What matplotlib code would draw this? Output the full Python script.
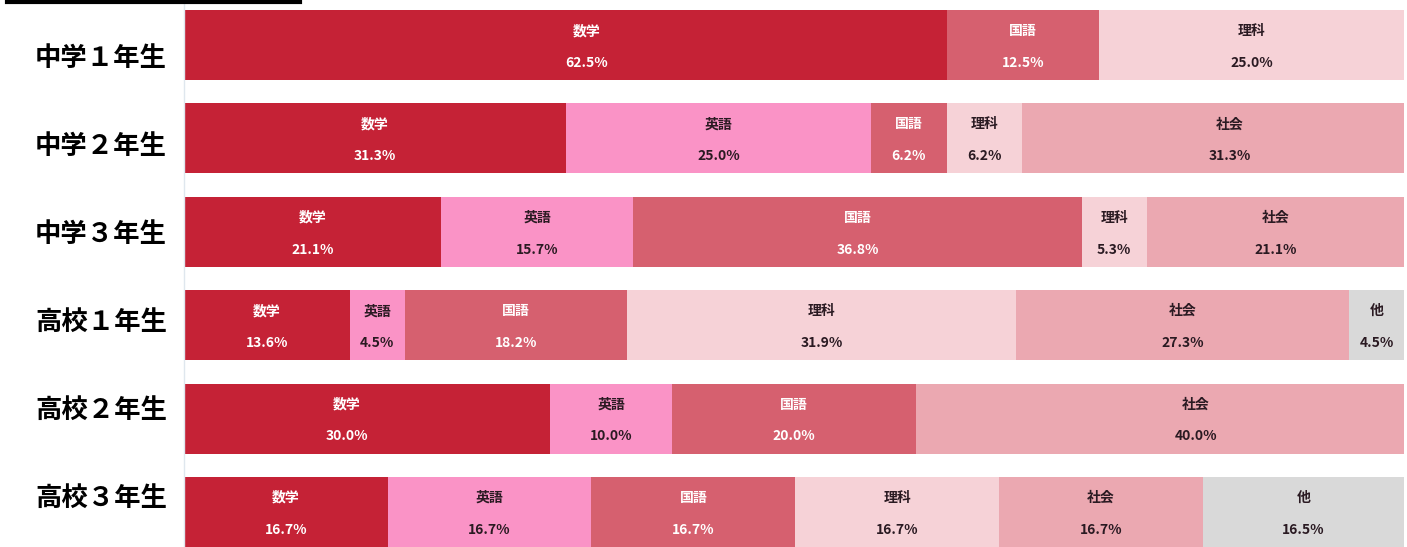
import numpy as np
import matplotlib.pyplot as plt

plt.rcParams['font.family'] = ['Noto Sans CJK JP', 'DejaVu Sans']

# rows (top to bottom) and subjects in stacking order
grades = ['中学１年生', '中学２年生', '中学３年生', '高校１年生', '高校２年生', '高校３年生']
subjects = ['数学', '英語', '国語', '理科', '社会', '他']

# percent per subject for each grade (0 = not present)
math = [62.5, 31.3, 21.1, 13.6, 30.0, 16.7]
english = [0, 25.0, 15.7, 4.5, 10.0, 16.7]
japanese = [12.5, 6.2, 36.8, 18.2, 20.0, 16.7]
science = [25.0, 6.2, 5.3, 31.9, 0, 16.7]
social = [0, 31.3, 21.1, 27.3, 40.0, 16.7]
other = [0, 0, 0, 4.5, 0, 16.5]

values = [math, english, japanese, science, social, other]
colors = ['#c52236', '#fa93c6', '#d6606f', '#f6d2d7', '#eba8b1', '#d9d9d9']
text_colors = ['white', '#2a1a22', 'white', '#2a1a22', '#2a1a22', '#2a1a22']

# a few labels in the original are not exactly centred (pixels)
nudge = {(0, '数学'): 21, (1, '社会'): 17, (4, '数学'): -20, (4, '社会'): 36}

fig = plt.figure(figsize=(14.07, 5.47), dpi=100)
ax = fig.add_axes([184 / 1407, 0, 1220 / 1407, 1])
px = 100 / 1220  # data units per pixel along x

y = np.arange(len(grades))
left = np.zeros(len(grades))
for vals, col, tcol, name in zip(values, colors, text_colors, subjects):
    vals = np.array(vals, dtype=float)
    ax.barh(y, vals, left=left, height=0.75, color=col, edgecolor='none')
    for i, v in enumerate(vals):
        if v <= 0:
            continue
        cx = left[i] + v / 2 + nudge.get((i, name), 0) * px
        ax.text(cx, y[i] - 0.15, name, ha='center', va='center',
                fontsize=10, fontweight='bold', color=tcol)
        ax.text(cx, y[i] + 0.19, f'{v:.1f}%', ha='center', va='center',
                fontsize=10, fontweight='bold', color=tcol)
    left += vals

ax.set_xlim(0, left.max())
ax.set_ylim(5.375, -0.482)
ax.set_yticks([])
ax.set_xticks([])
for s in ['top', 'right', 'bottom']:
    ax.spines[s].set_visible(False)
ax.spines['left'].set_color('#dfe7ee')
ax.spines['left'].set_linewidth(1.0)

# row labels on the left (they sit on their own, slightly tighter spacing)
for i, g in enumerate(grades):
    fy = 1 - (58 + 88 * i) / 547
    fig.text(101 / 1407, fy, g, ha='center', va='center', fontsize=19,
             fontweight='bold', color='black')

# black rule at the top left
fig.add_artist(plt.Line2D([7 / 1407, 300 / 1407], [1 - 2 / 547, 1 - 2 / 547],
                          color='black', linewidth=3))

fig.savefig('out.png', dpi=100)
